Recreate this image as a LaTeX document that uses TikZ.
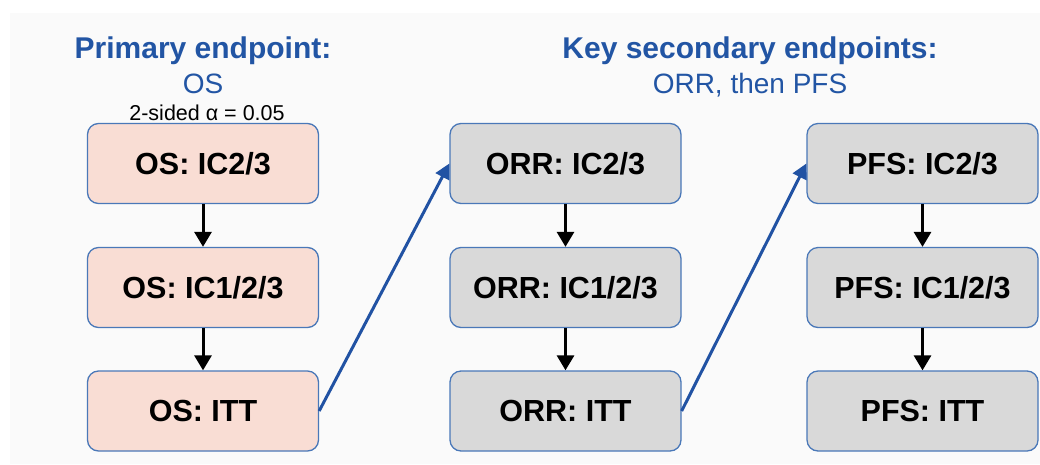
\documentclass[tikz,border=0pt]{standalone}
\usepackage{fontspec}
\setmainfont{Liberation Sans}
\usetikzlibrary{arrows.meta}
\definecolor{ttlblue}{HTML}{2255A4}
\definecolor{bordblue}{HTML}{4A78B8}
\definecolor{arrblue}{HTML}{2152A3}
\definecolor{pinkfill}{HTML}{F9DDD4}
\definecolor{grayfill}{HTML}{D9D9D9}
\definecolor{bgfill}{HTML}{FAFAFA}
\tikzset{
  epbox/.style={draw=bordblue, line width=1.3pt, rounded corners=11pt,
    minimum width=231pt, minimum height=80pt, inner sep=0pt,
    font=\fontsize{30.5}{35}\selectfont\bfseries},
  osbox/.style={epbox, fill=pinkfill},
  secbox/.style={epbox, fill=grayfill},
  downarr/.style={line width=3pt, -{Triangle[length=15pt,width=17pt]}},
  crossarr/.style={draw=arrblue, line width=3pt, -{Triangle[length=15pt,width=15pt]}},
  ttl/.style={text=ttlblue, anchor=base, inner sep=0pt, font=\fontsize{30}{36}\selectfont\bfseries},
  sub/.style={text=ttlblue, anchor=base, inner sep=0pt, font=\fontsize{28}{34}\selectfont},
}
\begin{document}
\begin{tikzpicture}[x=1pt,y=-1pt]
\useasboundingbox (0,0) rectangle (1040,464);
\fill[white] (0,0) rectangle (1040,464);
\fill[bgfill] (10,13) rectangle (1040,464);

% titles
\node[ttl] (t1) at (203,58) {Primary endpoint:};
\node[sub] (s1) at (203,93) {OS};
\node[anchor=base, inner sep=0pt, font=\fontsize{21.5}{25}\selectfont] (alpha) at (207,120) {2-sided α = 0.05};
\node[ttl] (t2) at (750,58) {Key secondary endpoints:};
\node[sub] (s2) at (750,93) {ORR, then PFS};

% column 1
\node[osbox] (os1) at (203,163.5) {OS: IC2/3};
\node[osbox] (os2) at (203,287.5) {OS: IC1/2/3};
\node[osbox] (os3) at (203,411) {OS: ITT};
% column 2
\node[secbox] (orr1) at (565.5,163.5) {ORR: IC2/3};
\node[secbox] (orr2) at (565.5,287.5) {ORR: IC1/2/3};
\node[secbox] (orr3) at (565.5,411) {ORR: ITT};
% column 3
\node[secbox] (pfs1) at (922.5,163.5) {PFS: IC2/3};
\node[secbox] (pfs2) at (922.5,287.5) {PFS: IC1/2/3};
\node[secbox] (pfs3) at (922.5,411) {PFS: ITT};

% vertical arrows
\draw[downarr] (os1) -- (os2);
\draw[downarr] (os2) -- (os3);
\draw[downarr] (orr1) -- (orr2);
\draw[downarr] (orr2) -- (orr3);
\draw[downarr] (pfs1) -- (pfs2);
\draw[downarr] (pfs2) -- (pfs3);

% cross arrows
\draw[crossarr] (os3.east) -- (orr1.west);
\draw[crossarr] (orr3.east) -- (pfs1.west);
\end{tikzpicture}
\end{document}
